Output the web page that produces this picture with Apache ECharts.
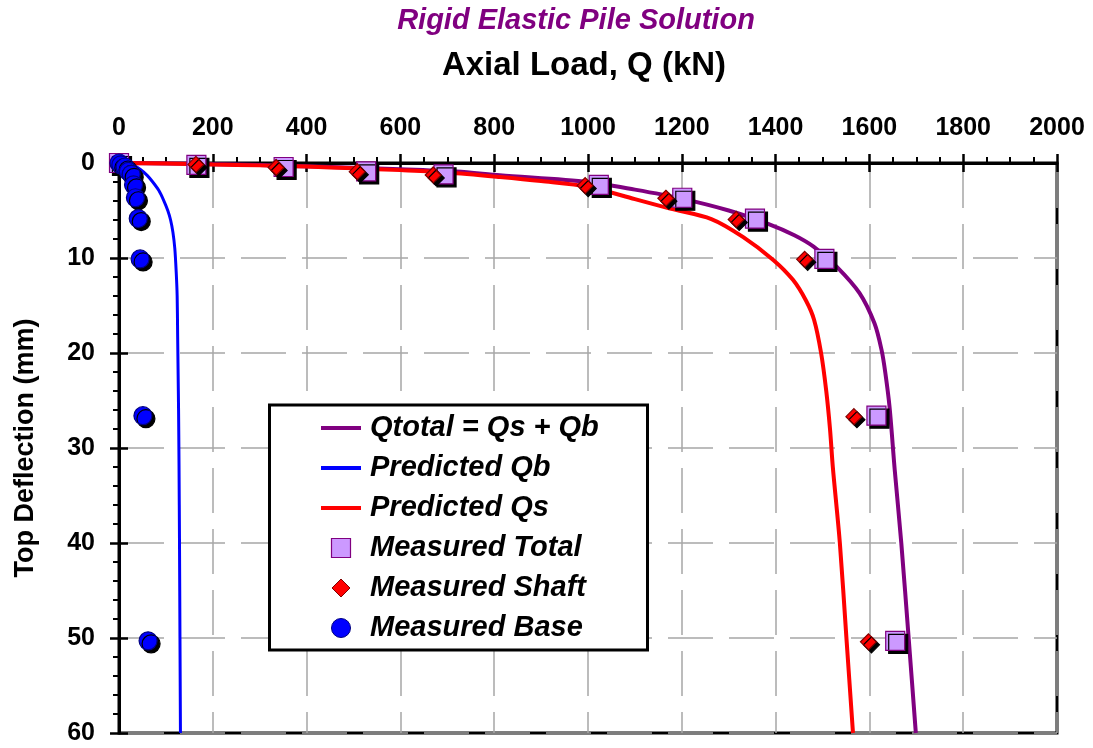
<!DOCTYPE html>
<html>
<head>
<meta charset="utf-8">
<script src="https://cdn.jsdelivr.net/npm/echarts@6/dist/echarts.min.js"></script>
<style>
  html, body { margin: 0; padding: 0; background: #fff; }
  #chart { width: 1093px; height: 748px; }
</style>
</head>
<body>
<div id="chart"></div>
<script>
// Load–settlement response of a rigid elastic pile: [axial load (kN), top deflection (mm)]
const predictedTotal = [
  [0, 0], [100, 0.05], [200, 0.12], [300, 0.22], [435, 0.4], [600, 0.65], [720, 0.9],
  [812, 1.3], [1000, 2.0], [1100, 2.8], [1200, 3.75], [1300, 5.0], [1384, 6.4],
  [1440, 7.6], [1481, 8.8], [1530, 10.9], [1579, 13.7], [1611, 16.9], [1626, 19.7],
  [1634, 22.1], [1643, 25.7], [1654, 32.3], [1668, 40], [1684, 50.2], [1699, 60]
];
const predictedBase = [
  [0, 0], [15, 0.05], [30, 0.25], [45, 0.65], [60, 1.3], [72, 2.0], [85, 2.9], [95, 3.9],
  [104, 5.0], [110, 6.0], [115, 7.3], [119, 9.0], [122, 11.5], [124, 14], [125, 18],
  [126, 22], [127, 26], [128, 32], [129, 40], [130, 50], [131, 60]
];
const predictedShaft = [
  [0, 0], [100, 0.05], [200, 0.15], [300, 0.25], [400, 0.38], [500, 0.55], [600, 0.75],
  [700, 1.0], [812, 1.47], [900, 1.9], [1000, 2.5], [1100, 3.8], [1175, 4.8], [1263, 5.9],
  [1331, 7.8], [1395, 10.2], [1437, 12.3], [1465, 14.5], [1482, 16.5], [1497, 20],
  [1508, 24], [1516, 28], [1522, 32], [1537, 40], [1551, 50], [1565, 60]
];
const measuredTotal = [
  [0, 0], [165, 0.2], [351, 0.42], [527, 0.89], [692, 1.19], [1023, 2.3], [1201, 3.66],
  [1356, 5.85], [1504, 10.1], [1615, 26.6], [1655, 50.3]
];
const measuredShaft = [
  [0, 0], [164, 0.15], [335, 0.47], [508, 0.91], [670, 1.26], [994, 2.38], [1166, 3.71],
  [1316, 5.94], [1462, 10.14], [1567, 26.7], [1598, 50.4]
];
const measuredBase = [
  [0, 0], [4, 0.2], [13, 0.42], [20, 0.89], [26, 1.19], [31, 2.3], [35, 3.66],
  [41, 5.85], [45, 10.1], [51, 26.6], [62, 50.3]
];

const chartTitle = 'Rigid Elastic Pile Solution';
const loadAxisName = 'Axial Load, Q (kN)';
const deflectionAxisName = 'Top Deflection (mm)';
const legendLabels = [
  'Qtotal = Qs + Qb', 'Predicted Qb', 'Predicted Qs',
  'Measured Total', 'Measured Shaft', 'Measured Base'
];

const FONT = '"Liberation Sans", Arial, Helvetica, sans-serif';
const PURPLE = '#800080', BLUE = '#0000FF', RED = '#FF0000';
const LILAC = '#CC99FF';

const gridDash = { color: '#a6a6a6', width: 1.5, type: [45, 16] };
const tickStyle = { color: '#000', width: 2.5 };
const plainNumber = v => String(v);

// Main axis: line, outward ticks, labels, dashed grid.
// Twin axis: same scale, inward ticks only, so the major ticks cross the axis line.
const xMain = {
  type: 'value', position: 'top', min: 0, max: 2000, interval: 200,
  axisLine: { show: true, onZero: false, lineStyle: { color: '#000', width: 3 } },
  axisTick: { show: true, inside: false, length: 9, lineStyle: tickStyle },
  minorTick: { show: true, splitNumber: 4, length: 6, lineStyle: { color: '#000', width: 2 } },
  axisLabel: { margin: 22, fontSize: 25, fontWeight: 'bold', color: '#000', fontFamily: FONT, formatter: plainNumber },
  splitLine: { show: true, lineStyle: gridDash }
};
const xTwin = {
  type: 'value', position: 'top', min: 0, max: 2000, interval: 200,
  axisLine: { show: false },
  axisTick: { show: true, inside: true, length: 9, lineStyle: tickStyle },
  axisLabel: { show: false }, splitLine: { show: false }
};
const yMain = {
  type: 'value', position: 'left', inverse: true, min: 0, max: 60, interval: 10,
  name: deflectionAxisName, nameLocation: 'middle', nameRotate: 90, nameGap: 80,
  nameTextStyle: { fontSize: 27, fontWeight: 'bold', color: '#000', fontFamily: FONT },
  axisLine: { show: true, onZero: false, lineStyle: { color: '#000', width: 3 } },
  axisTick: { show: true, inside: false, length: 9, lineStyle: tickStyle },
  minorTick: { show: true, splitNumber: 5, length: 6, lineStyle: { color: '#000', width: 2 } },
  axisLabel: { margin: 24, fontSize: 25, fontWeight: 'bold', color: '#000', fontFamily: FONT, formatter: plainNumber },
  splitLine: { show: true, lineStyle: gridDash }
};
const yTwin = {
  type: 'value', position: 'left', inverse: true, min: 0, max: 60, interval: 10,
  axisLine: { show: false },
  axisTick: { show: true, inside: true, length: 9, lineStyle: tickStyle },
  axisLabel: { show: false }, splitLine: { show: false }
};

const markerShadow = { shadowColor: '#000', shadowBlur: 0, shadowOffsetX: 3, shadowOffsetY: 3 };

function curve(name, data, color, width) {
  return {
    name, type: 'line', data, symbol: 'none', smooth: 0.3,
    lineStyle: { color, width }, z: 2
  };
}
function markers(name, data, symbol, size, fill, stroke, z) {
  return {
    name, type: 'scatter', data, symbol, symbolSize: size, z,
    itemStyle: Object.assign({ color: fill, borderColor: stroke, borderWidth: 1.2, opacity: 1 }, markerShadow)
  };
}

// Legend panel drawn as graphics
const legendBox = { x: 269.5, y: 405, w: 378, h: 245 };
const rowY = [428, 468, 508, 548, 588, 628];
const iconX = 341, textX = 370;
const legendGraphics = [
  { type: 'rect', z: 100, shape: { x: legendBox.x, y: legendBox.y, width: legendBox.w, height: legendBox.h },
    style: { fill: '#fff', stroke: '#000', lineWidth: 3 } },
  { type: 'line', z: 101, shape: { x1: 321, y1: rowY[0], x2: 361, y2: rowY[0] }, style: { stroke: PURPLE, lineWidth: 4 } },
  { type: 'line', z: 101, shape: { x1: 321, y1: rowY[1], x2: 361, y2: rowY[1] }, style: { stroke: BLUE, lineWidth: 4 } },
  { type: 'line', z: 101, shape: { x1: 321, y1: rowY[2], x2: 361, y2: rowY[2] }, style: { stroke: RED, lineWidth: 4 } },
  { type: 'rect', z: 101, shape: { x: iconX - 9.5, y: rowY[3] - 9.5, width: 19, height: 19 },
    style: { fill: LILAC, stroke: PURPLE, lineWidth: 1.2 } },
  { type: 'polygon', z: 101, shape: { points: [[iconX, rowY[4] - 9], [iconX + 9, rowY[4]], [iconX, rowY[4] + 9], [iconX - 9, rowY[4]]] },
    style: { fill: RED, stroke: '#800000', lineWidth: 1 } },
  { type: 'circle', z: 101, shape: { cx: iconX, cy: rowY[5], r: 9.5 },
    style: { fill: BLUE, stroke: '#000080', lineWidth: 1 } }
].concat(legendLabels.map((label, i) => ({
  type: 'text', z: 101, x: textX, y: rowY[i],
  style: { text: label, fill: '#000', font: 'italic bold 29px ' + FONT, verticalAlign: 'middle', align: 'left' }
})));

const chart = echarts.init(document.getElementById('chart'), null, { renderer: 'canvas' });
chart.setOption({
  animation: false,
  backgroundColor: '#fff',
  title: [
    { text: chartTitle, left: 571, top: 1, textAlign: 'center',
      textStyle: { color: PURPLE, fontSize: 29, fontStyle: 'italic', fontWeight: 'bold', fontFamily: FONT } },
    { text: loadAxisName, left: 579, top: 44, textAlign: 'center',
      textStyle: { color: '#000', fontSize: 33, fontWeight: 'bold', fontFamily: FONT } }
  ],
  grid: { left: 119, top: 163, right: 36, bottom: 15, show: true, borderColor: '#000', borderWidth: 3, backgroundColor: '#fff' },
  xAxis: [xMain, xTwin],
  yAxis: [yMain, yTwin],
  graphic: legendGraphics,
  series: [
    curve(legendLabels[0], predictedTotal, PURPLE, 4),
    curve(legendLabels[1], predictedBase, BLUE, 3),
    curve(legendLabels[2], predictedShaft, RED, 4),
    markers(legendLabels[3], measuredTotal, 'rect', 19, LILAC, PURPLE, 3),
    markers(legendLabels[4], measuredShaft, 'diamond', 16, RED, '#800000', 4),
    markers(legendLabels[5], measuredBase, 'circle', 18, BLUE, '#000080', 5)
  ]
});
</script>
</body>
</html>
